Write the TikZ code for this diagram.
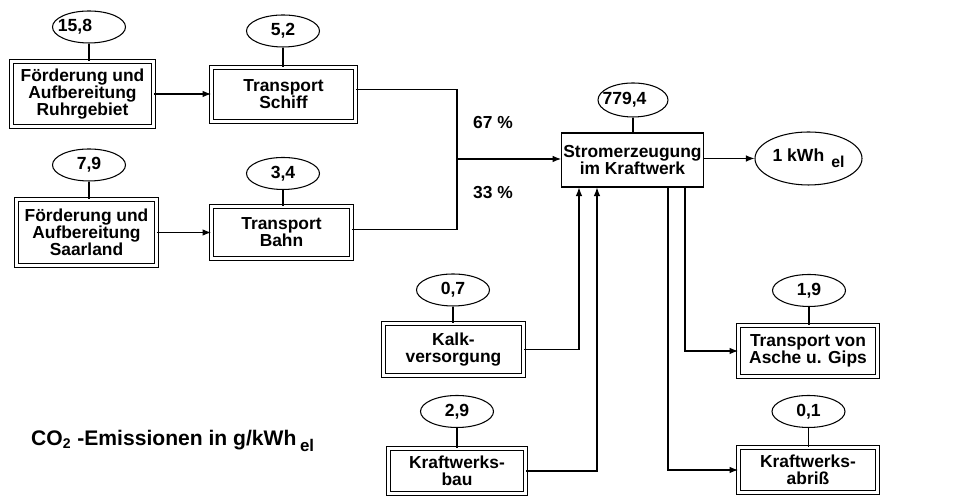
\documentclass[tikz,border=0pt]{standalone}
\usepackage{fontspec}
\setmainfont{Liberation Sans}
\usepackage{tikz}
\usetikzlibrary{arrows.meta,positioning,shapes.geometric}
\tikzset{
  kwbox/.style={draw, line width=0.6pt, align=center, inner sep=1pt,
    font=\bfseries\fontsize{9.9}{9.6}\selectfont},
  kwdbox/.style={kwbox, double, line width=0.5pt, double distance=1.4pt},
  kwval/.style={draw, ellipse, line width=0.6pt, inner sep=0pt,
    minimum width=1.46cm, minimum height=0.64cm,
    font=\bfseries\fontsize{10}{10}\selectfont},
  kwline/.style={line width=0.6pt},
  kwarrow/.style={kwline, -{Latex[length=1.7mm,width=1.3mm]}}
}
\begin{document}
\begin{tikzpicture}
  \useasboundingbox (0,0) rectangle (19.56cm,9.94cm);
  % Kohleförderung und Transport
  \node[kwdbox, minimum width=2.84cm, minimum height=1.30cm] (nA) at (1.65cm,8.06cm) {Förderung und\\Aufbereitung\\Ruhrgebiet};
  \node[kwval] (vA) at (1.78cm,9.40cm) {\hspace*{-0.56cm}15,8};
  \node[kwdbox, minimum width=2.88cm, minimum height=1.08cm] (nB) at (5.67cm,8.05cm) {Transport\\Schiff};
  \node[kwval] (vB) at (5.66cm,9.32cm) {5,2};
  \node[kwdbox, minimum width=2.80cm, minimum height=1.32cm] (nC) at (1.73cm,5.29cm) {Förderung und\\Aufbereitung\\Saarland};
  \node[kwval] (vC) at (1.78cm,6.64cm) {7,9};
  \node[kwdbox, minimum width=2.80cm, minimum height=1.04cm] (nD) at (5.63cm,5.29cm) {Transport\\Bahn};
  \node[kwval] (vD) at (5.66cm,6.47cm) {3,4};
  % Kraftwerk
  \node[kwbox, minimum width=2.82cm, minimum height=1.08cm] (nE) at (12.65cm,6.74cm) {Stromerzeugung\\im Kraftwerk};
  \node[kwval, minimum width=1.40cm, minimum height=0.68cm] (vE) at (12.66cm,7.94cm) {\hspace*{-0.34cm}779,4};
  \node[kwval, minimum width=2.14cm, minimum height=1.06cm] (nK) at (16.17cm,6.77cm) {1 kWh\hspace{0.14cm}\raisebox{-0.6ex}{\fontsize{9}{9}\selectfont el}};
  \node[kwdbox, minimum width=2.80cm, minimum height=1.04cm] (nL) at (9.07cm,2.95cm) {Kalk-\\versorgung};
  \node[kwval] (vL) at (9.06cm,4.14cm) {0,7};
  \node[kwdbox, minimum width=2.74cm, minimum height=0.90cm] (nM) at (9.14cm,0.52cm) {Kraftwerks-\\bau};
  \node[kwval] (vM) at (9.14cm,1.71cm) {2,9};
  \node[kwdbox, minimum width=2.78cm, minimum height=1.02cm] (nT) at (16.16cm,2.92cm) {Transport von\\Asche u. Gips};
  \node[kwval] (vT) at (16.18cm,4.13cm) {1,9};
  \node[kwdbox, minimum width=2.78cm, minimum height=0.90cm] (nR) at (16.16cm,0.54cm) {Kraftwerks-\\abriß};
  \node[kwval] (vR) at (16.17cm,1.71cm) {0,1};
  \coordinate (jn) at (9.14cm,6.76cm);
  \node[anchor=west, font=\bfseries\fontsize{9.9}{9.9}\selectfont] (p67) at (9.34cm,7.48cm) {67 \%};
  \node[anchor=west, font=\bfseries\fontsize{9.9}{9.9}\selectfont] (p33) at (9.34cm,6.08cm) {33 \%};
  \node[anchor=west, font=\bfseries\fontsize{12}{14}\selectfont] (lg) at (0.50cm,1.12cm) {CO\textsubscript{2} -Emissionen in g/kWh\,\raisebox{-0.6ex}{\fontsize{9.6}{10}\selectfont el}};
  % Werte
  \foreach \v/\n in {vA/nA,vB/nB,vC/nC,vD/nD,vE/nE,vL/nL,vM/nM,vT/nT,vR/nR}
    \draw[kwline] (\v.south) -- (\v.south |- \n.north);
  % Verbindungen
  \draw[kwarrow] (nA.east) -- (nB.west |- nA.east);
  \draw[kwarrow] (nC.east) -- (nD.west |- nC.east);
  \draw[kwline] ([yshift=0.1cm]nB.east) -| (jn);
  \draw[kwline] ([yshift=0.06cm]nD.east) -| (jn);
  \draw[kwarrow] (jn) -- (nE.west |- jn);
  \draw[kwarrow] (nE.east |- nK.west) -- (nK.west);
  \draw[kwarrow] (nL.east) -| ([xshift=-1.07cm]nE.south);
  \draw[kwarrow] (nM.east) -| ([xshift=-0.71cm]nE.south);
  \draw[kwarrow] ([xshift=1.05cm]nE.south) |- (nT.west);
  \draw[kwarrow] ([xshift=0.71cm]nE.south) |- (nR.west);
\end{tikzpicture}
\end{document}
